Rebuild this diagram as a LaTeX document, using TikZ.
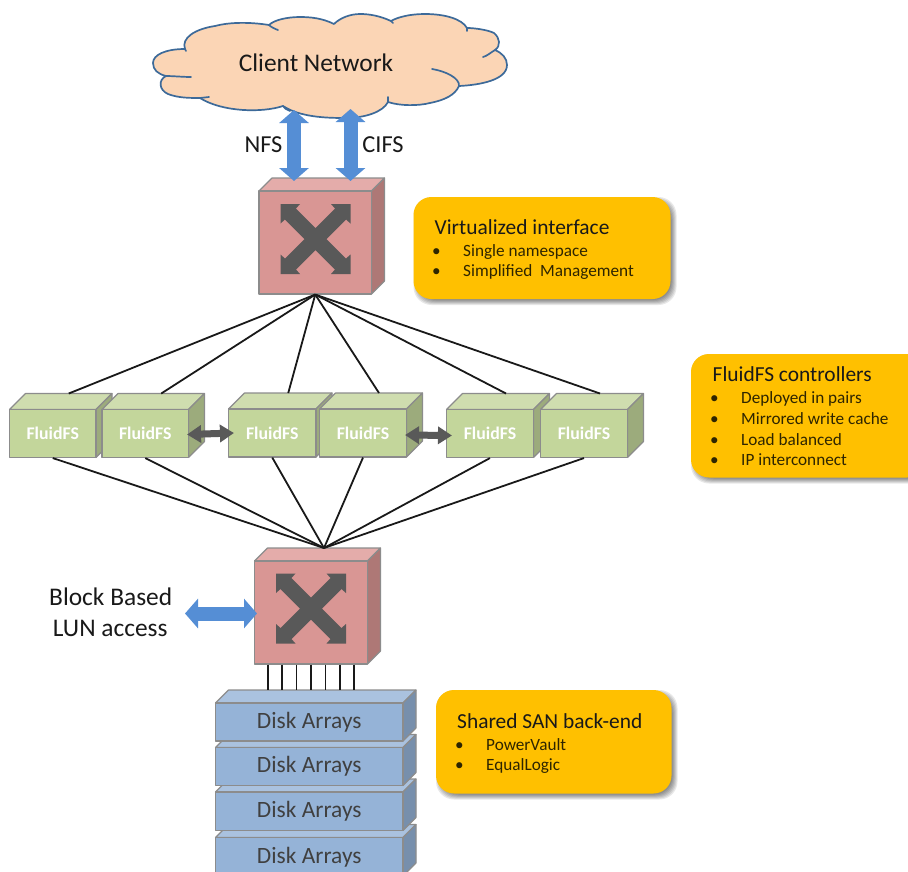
\documentclass[tikz,border=0pt]{standalone}
\usepackage{fontspec}
\setmainfont{Carlito}
\usetikzlibrary{arrows.meta}
\definecolor{swfront}{HTML}{D99694}
\definecolor{swtop}{HTML}{E4ACAA}
\definecolor{swside}{HTML}{AE7876}
\definecolor{fsfront}{HTML}{C3D69B}
\definecolor{fstop}{HTML}{CFDDAF}
\definecolor{fsside}{HTML}{9CAB7C}
\definecolor{dkfront}{HTML}{95B3D7}
\definecolor{dktop}{HTML}{AAC2DF}
\definecolor{dkside}{HTML}{778FAC}
\definecolor{edgegray}{HTML}{8C8C8C}
\definecolor{icongray}{HTML}{595959}
\definecolor{cloudfill}{HTML}{FBD5B5}
\definecolor{cloudline}{HTML}{3D6A99}
\definecolor{arrowblue}{HTML}{558ED5}
\definecolor{calloutfill}{HTML}{FFC000}
\definecolor{bodytext}{HTML}{2E2500}
\tikzset{
  edgeline/.style={draw=edgegray,line width=1.1pt,line join=round},
  wire/.style={draw=black!90,line width=1.8pt},
  fslabel/.style={text=white,font=\fontsize{17.8}{18}\selectfont\bfseries},
  dklabel/.style={text=black!75,font=\fontsize{23.4}{24}\selectfont},
  nolabel/.style={},
  bigtext/.style={anchor=base,inner sep=0pt,font=\fontsize{25.4}{26}\selectfont,text=black!90},
  protolabel/.style={anchor=base,inner sep=0pt,font=\fontsize{24.4}{25}\selectfont,text=black!90},
  headtext/.style={anchor=base west,inner sep=0pt,font=\fontsize{21.4}{22}\selectfont,text=black!90},
  itemtext/.style={anchor=base west,inner sep=0pt,font=\fontsize{17.2}{18}\selectfont,text=bodytext},
  bluearrow/.style={draw=arrowblue,line width=14pt,arrows={Triangle[length=13pt,width=29pt]-Triangle[length=13pt,width=29pt]}},
  grayarrow/.style={draw=icongray,line width=7pt,arrows={Triangle[length=14pt,width=17pt]-Triangle[length=14pt,width=17pt]}},
}
% name, x0, y0, x1, y1, depth, palette, label style, label
\newcommand{\cubebox}[9]{%
  \filldraw[edgeline,fill=#7top] (#2,#3) -- ({#2+#6},{#3-#6}) -- ({#4+#6},{#3-#6}) -- (#4,#3) -- cycle;
  \filldraw[edgeline,fill=#7side] (#4,#3) -- ({#4+#6},{#3-#6}) -- ({#4+#6},{#5-#6}) -- (#4,#5) -- cycle;
  \node[edgeline,fill=#7front,inner sep=0pt,minimum width={(#4-#2)*1pt},minimum height={(#5-#3)*1pt},#8] (#1) at ({(#2+#4)/2},{(#3+#5)/2}) {#9};
  \coordinate (#1top) at ({(#2+#4)/2+#6},{#3-#6});
}
\newcommand{\crossicon}[2]{%
  \fill[icongray,shift={(#1,#2)}] (0,-11) -- (19.5,-30.5) -- (15.5,-35) -- (35,-35) -- (35,-15.5) -- (30.5,-19.5) -- (11,0) -- (30.5,19.5) -- (35,15.5) -- (35,35) -- (15.5,35) -- (19.5,30.5) -- (0,11) -- (-19.5,30.5) -- (-15.5,35) -- (-35,35) -- (-35,15.5) -- (-30.5,19.5) -- (-11,0) -- (-30.5,-19.5) -- (-35,-15.5) -- (-35,-35) -- (-15.5,-35) -- (-19.5,-30.5) -- cycle;
}
% name, x0, y0, x1, y1
\newcommand{\calloutbox}[5]{%
  \foreach \e in {3,2,1,0,-1,-2}
    \fill[black,opacity=.09,rounded corners=18pt] ({#2+3-\e},{#3+3-\e}) rectangle ({#4+3+\e},{#5+3+\e});
  \node[fill=calloutfill,rounded corners=18pt,inner sep=0pt,minimum width={(#4-#2)*1pt},minimum height={(#5-#3)*1pt}] (#1) at ({(#2+#4)/2},{(#3+#5)/2}) {};
}
\begin{document}
\begin{tikzpicture}[x=1pt,y=-1pt]
\useasboundingbox (0,0) rectangle (908,871);
\fill[white] (0,0) rectangle (908,871);

% cloud
\filldraw[draw=cloudline,fill=cloudfill,line width=1.7pt,line join=round]
  (185,49) .. controls (165,49) and (153,55) .. (153,63)
  .. controls (153,70) and (158,74) .. (166,76)
  .. controls (158,80) and (159,90) .. (168,94)
  .. controls (178,98) and (190,98) .. (200,98)
  .. controls (222,112) and (262,113) .. (283,106)
  .. controls (300,117) and (325,118) .. (345,118)
  .. controls (365,118) and (383,112) .. (388,102)
  .. controls (400,106) and (418,106) .. (430,103)
  .. controls (445,100) and (455,95) .. (459,86)
  .. controls (480,85) and (507,80) .. (507,65)
  .. controls (507,58) and (502,53) .. (495,50)
  .. controls (501,46) and (500,38) .. (494,33)
  .. controls (488,30) and (475,28) .. (467,28)
  .. controls (462,19) and (445,14) .. (425,14)
  .. controls (410,14) and (398,17) .. (391,21)
  .. controls (380,16) and (370,14) .. (360,14)
  .. controls (350,14) and (340,18) .. (334,24)
  .. controls (322,18) and (310,17) .. (300,17)
  .. controls (287,17) and (274,20) .. (269,25)
  .. controls (250,22) and (230,22) .. (215,26)
  .. controls (195,29) and (181,38) .. (185,49) -- cycle;
\draw[cloudline,line width=1.7pt,line cap=round]
  (166,76) .. controls (173,76) and (183,77) .. (191,77)
  (200,98) -- (209,97)
  (283,106) .. controls (284,108) and (287,110) .. (290,111)
  (388,102) -- (388,97)
  (432,69) .. controls (445,71) and (460,78) .. (459,86)
  (495,50) .. controls (490,53) and (487,56) .. (483,57)
  (467,28) -- (467,31)
  (391,21) -- (393,23)
  (269,25) .. controls (271,27) and (275,29) .. (278,30)
  (185,49) -- (186,51);
\node[bigtext] (clientlabel) at (316,71) {Client Network};

% top switch
\cubebox{swa}{259}{191}{371.5}{294}{13}{sw}{nolabel}{}
\crossicon{315.5}{239}

% bottom switch
\cubebox{swb}{254.5}{561}{367.5}{664}{13}{sw}{nolabel}{}
\crossicon{311}{608.5}

% controllers
\cubebox{fa}{9.5}{409.5}{96}{457.5}{16}{fs}{fslabel}{FluidFS}
\cubebox{fb}{102}{409.5}{188.5}{457.5}{16}{fs}{fslabel}{FluidFS}
\cubebox{fc}{228.5}{409}{316}{457}{16}{fs}{fslabel}{FluidFS}
\cubebox{fd}{319.5}{409}{406.5}{457}{16}{fs}{fslabel}{FluidFS}
\cubebox{fe}{446.5}{409.5}{533.5}{457.5}{16}{fs}{fslabel}{FluidFS}
\cubebox{ff}{540.5}{409.5}{627.5}{457.5}{16}{fs}{fslabel}{FluidFS}

% disk arrays
\cubebox{dd}{215.5}{837.5}{403}{876}{13}{dk}{dklabel}{\raisebox{-1pt}{Disk Arrays}}
\cubebox{dc}{215.5}{792}{403}{830.5}{13}{dk}{dklabel}{\raisebox{-1pt}{Disk Arrays}}
\cubebox{db}{215.5}{747.5}{403}{785.5}{13}{dk}{dklabel}{\raisebox{-1pt}{Disk Arrays}}
\cubebox{da}{215.5}{703}{403}{741}{13}{dk}{dklabel}{Disk Arrays}

% fan out and fan in
\foreach \n in {fa,fb,fc,fd,fe,ff} {
  \draw[wire] (swa.south) -- (\n top);
  \draw[wire] (\n.south) -- (swbtop);
}
\foreach \k in {-3,...,3} {
  \draw[wire,line width=1.6pt] ([xshift=14.4*\k pt]swb.south) coordinate (wirestart) -- (wirestart |- datop);
}

% arrows
\coordinate (nfsup) at (294,110);
\coordinate (nfsdown) at (294,181);
\coordinate (cifsup) at (350.5,109);
\coordinate (cifsdown) at (350.5,181);
\coordinate (lunleft) at (185,613.5);
\coordinate (lunright) at (257,613.5);
\draw[bluearrow] (nfsup) -- (nfsdown);
\draw[bluearrow] (cifsup) -- (cifsdown);
\draw[bluearrow] (lunleft) -- (lunright);
\draw[grayarrow] ([xshift=-2pt,yshift=-1pt]fb.east) -- ([xshift=6pt]fc.west);
\draw[grayarrow] ([xshift=-2pt,yshift=-2pt]fd.east) -- ([xshift=6pt,yshift=-2pt]fe.west);

\node[protolabel] (nfslabel) at (263.5,152.5) {NFS};
\node[protolabel] (cifslabel) at (383,152.5) {CIFS};
\node[bigtext] (blocklabel) at (110.7,605) {Block Based};
\node[bigtext] (lunlabel) at (110.2,636) {LUN access};

% callouts
\calloutbox{cva}{413.5}{197}{670.5}{299}
\node[headtext] (vahead) at (434.5,234) {Virtualized interface};
\node[itemtext] (vab1) at (432,256) {•};
\node[itemtext] (vai1) at (463,256) {Single namespace};
\node[itemtext] (vab2) at (432,276.5) {•};
\node[itemtext] (vai2) at (463,276.5) {Simplified\ \ Management};

\calloutbox{cvb}{691}{354}{925}{477.5}
\node[headtext] (vbhead) at (712.5,381.5) {FluidFS controllers};
\node[itemtext] (vbb1) at (710,403) {•};
\node[itemtext] (vbi1) at (741,403) {Deployed in pairs};
\node[itemtext] (vbb2) at (710,424) {•};
\node[itemtext] (vbi2) at (741,424) {Mirrored write cache};
\node[itemtext] (vbb3) at (710,445) {•};
\node[itemtext] (vbi3) at (741,445) {Load balanced};
\node[itemtext] (vbb4) at (710,465.5) {•};
\node[itemtext] (vbi4) at (741,465.5) {IP interconnect};

\calloutbox{cvc}{436}{690}{671.5}{793.5}
\node[headtext] (vchead) at (457,728) {Shared SAN back-end};
\node[itemtext] (vcb1) at (455,750) {•};
\node[itemtext] (vci1) at (486,750) {PowerVault};
\node[itemtext] (vcb2) at (455,770.5) {•};
\node[itemtext] (vci2) at (486,770.5) {EqualLogic};
\end{tikzpicture}
\end{document}
